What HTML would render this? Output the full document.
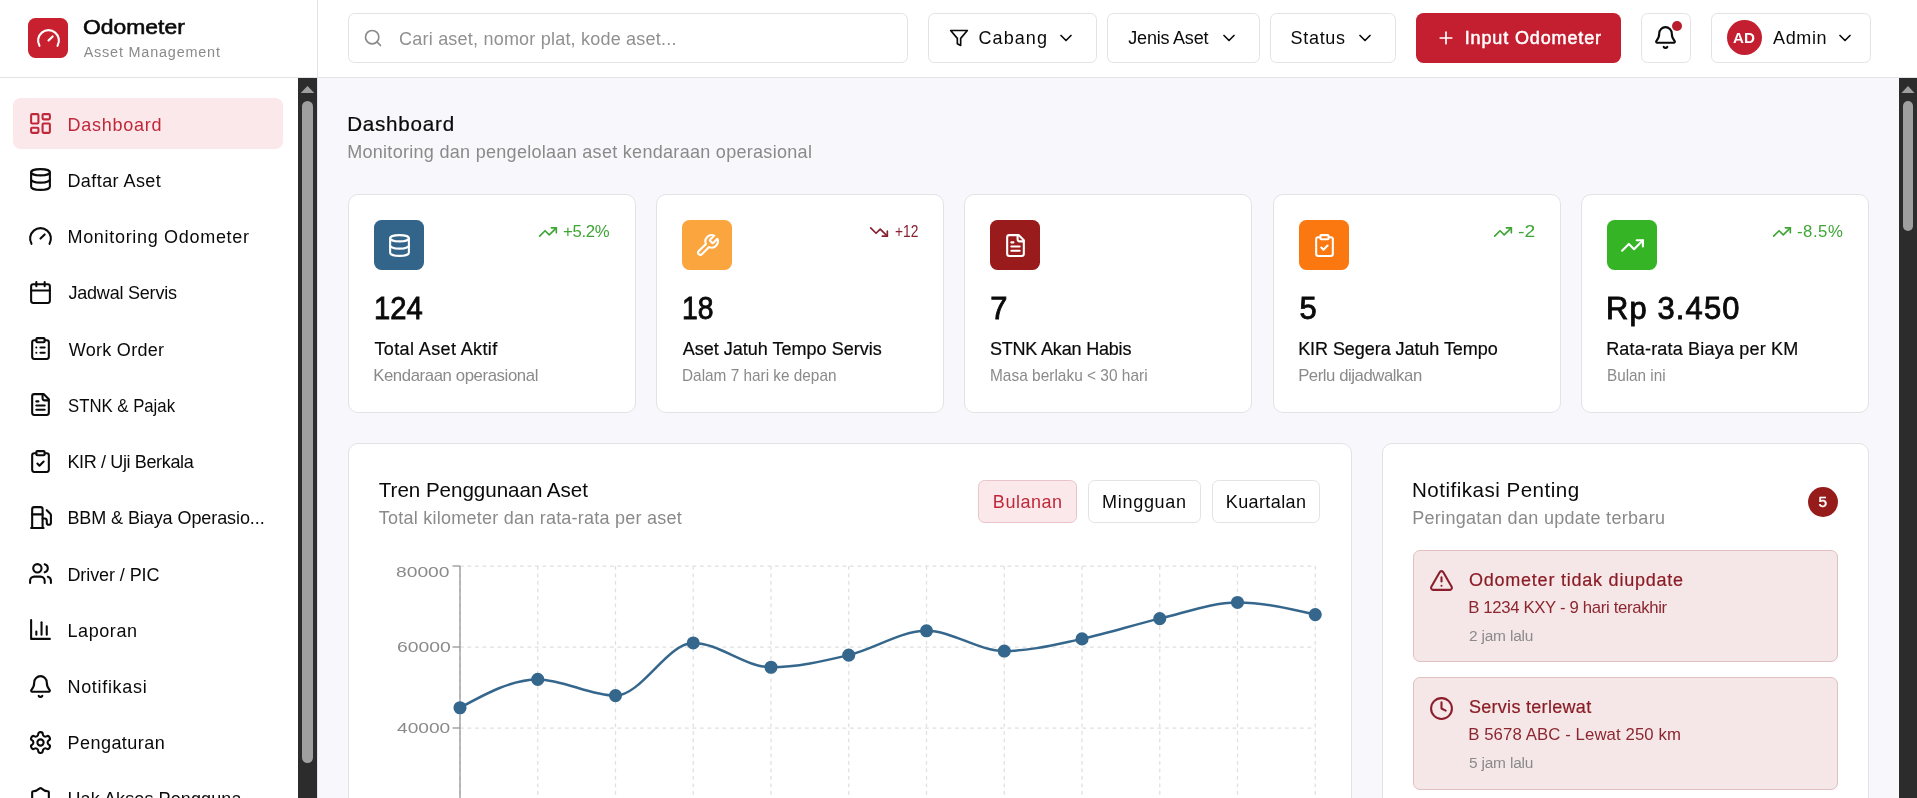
<!DOCTYPE html>
<html lang="id"><head><meta charset="utf-8"><title>Odometer Asset Management</title>
<style>
html,body{margin:0;padding:0}
body{width:1917px;height:798px;overflow:hidden;position:relative;background:#f8f8fc;font-family:"Liberation Sans", sans-serif;}
#r{position:absolute;left:0;top:0;width:1917px;height:798px;overflow:hidden;will-change:transform}
#r>div,#r>svg,#r>span{position:absolute;display:block}
.t{white-space:pre;line-height:1;transform-origin:0 0;font-family:"Liberation Sans", sans-serif;font-weight:400}
</style></head><body><div id="r">
<div style="left:0px;top:0px;width:1917px;height:798px;background:#f8f8fc"></div>
<div style="left:0px;top:0px;width:1917px;height:77px;background:#fff"></div>
<div style="left:0px;top:77px;width:1917px;height:1px;background:#e3e3e7"></div>
<div style="left:0px;top:78px;width:317px;height:720px;background:#fff"></div>
<div style="left:317px;top:0px;width:1px;height:798px;background:#e3e3e7"></div>
<div style="left:298px;top:78px;width:19px;height:720px;background:#2c2c2c"></div>
<div style="left:302px;top:100.5px;width:11px;height:662px;background:#9f9f9f;border-radius:5.5px"></div>
<svg style="left:298px;top:78px" width="19" height="20" viewBox="0 0 19 20"><path d="M2.7 15 L9.5 8 L16.3 15 Z" fill="#9f9f9f"/></svg>
<div style="left:1899px;top:78px;width:18px;height:720px;background:#2c2c2c"></div>
<div style="left:1903px;top:100.5px;width:10px;height:130.7px;background:#9f9f9f;border-radius:5px"></div>
<svg style="left:1899px;top:78px" width="18" height="20" viewBox="0 0 18 20"><path d="M2.5 15 L9 8 L15.5 15 Z" fill="#9f9f9f"/></svg>
<div style="left:28px;top:18px;width:40px;height:40px;background:#c8202f;border-radius:7.5px"></div>
<svg style="left:35.50px;top:25.50px" width="25" height="25" viewBox="0 0 24 24" fill="none" stroke="#fff" stroke-width="2" stroke-linecap="round" stroke-linejoin="round"><path d="m12 14 4-4"/><path d="M3.34 19a10 10 0 1 1 17.32 0"/></svg>
<span class="t" style="left:82.95px;top:17px;font-size:20.6px;color:#0a0a0a;transform:scaleX(1.1119);-webkit-text-stroke:0.58px #0a0a0a;">Odometer</span>
<span class="t" style="left:83.70px;top:45px;font-size:14.42px;color:#8a8a8a;letter-spacing:0.807px;">Asset Management</span>
<div style="left:13px;top:98px;width:270px;height:51px;background:#fbe8ea;border-radius:7.5px"></div>
<svg style="left:27.50px;top:111.00px" width="25" height="25" viewBox="0 0 24 24" fill="none" stroke="#c0283a" stroke-width="2" stroke-linecap="round" stroke-linejoin="round"><rect width="7" height="9" x="3" y="3" rx="1"/><rect width="7" height="5" x="14" y="3" rx="1"/><rect width="7" height="9" x="14" y="12" rx="1"/><rect width="7" height="5" x="3" y="16" rx="1"/></svg>
<span class="t" style="left:67.45px;top:116px;font-size:18.03px;color:#c0283a;letter-spacing:0.756px;">Dashboard</span>
<svg style="left:27.50px;top:167.25px" width="25" height="25" viewBox="0 0 24 24" fill="none" stroke="#0a0a0a" stroke-width="2" stroke-linecap="round" stroke-linejoin="round"><ellipse cx="12" cy="5" rx="9" ry="3"/><path d="M3 5V19A9 3 0 0 0 21 19V5"/><path d="M3 12A9 3 0 0 0 21 12"/></svg>
<span class="t" style="left:67.45px;top:172px;font-size:18.03px;color:#0a0a0a;letter-spacing:0.420px;">Daftar Aset</span>
<svg style="left:27.50px;top:223.50px" width="25" height="25" viewBox="0 0 24 24" fill="none" stroke="#0a0a0a" stroke-width="2" stroke-linecap="round" stroke-linejoin="round"><path d="m12 14 4-4"/><path d="M3.34 19a10 10 0 1 1 17.32 0"/></svg>
<span class="t" style="left:67.45px;top:228px;font-size:18.03px;color:#0a0a0a;letter-spacing:0.686px;">Monitoring Odometer</span>
<svg style="left:27.50px;top:279.75px" width="25" height="25" viewBox="0 0 24 24" fill="none" stroke="#0a0a0a" stroke-width="2" stroke-linecap="round" stroke-linejoin="round"><path d="M8 2v4"/><path d="M16 2v4"/><rect width="18" height="18" x="3" y="4" rx="2"/><path d="M3 10h18"/></svg>
<span class="t" style="left:68.45px;top:284px;font-size:18.03px;color:#0a0a0a;letter-spacing:-0.217px;">Jadwal Servis</span>
<svg style="left:27.50px;top:336.00px" width="25" height="25" viewBox="0 0 24 24" fill="none" stroke="#0a0a0a" stroke-width="2" stroke-linecap="round" stroke-linejoin="round"><rect width="8" height="4" x="8" y="2" rx="1" ry="1"/><path d="M16 4h2a2 2 0 0 1 2 2v14a2 2 0 0 1-2 2H6a2 2 0 0 1-2-2V6a2 2 0 0 1 2-2h2"/><path d="M12 11h4"/><path d="M12 16h4"/><path d="M8 11h.01"/><path d="M8 16h.01"/></svg>
<span class="t" style="left:68.70px;top:341px;font-size:18.03px;color:#0a0a0a;letter-spacing:0.294px;">Work Order</span>
<svg style="left:27.50px;top:392.25px" width="25" height="25" viewBox="0 0 24 24" fill="none" stroke="#0a0a0a" stroke-width="2" stroke-linecap="round" stroke-linejoin="round"><path d="M15 2H6a2 2 0 0 0-2 2v16a2 2 0 0 0 2 2h12a2 2 0 0 0 2-2V7Z"/><path d="M14 2v4a2 2 0 0 0 2 2h4"/><path d="M10 9H8"/><path d="M16 13H8"/><path d="M16 17H8"/></svg>
<span class="t" style="left:67.95px;top:397px;font-size:18.03px;color:#0a0a0a;transform:scaleX(0.9295);">STNK &amp; Pajak</span>
<svg style="left:27.50px;top:448.50px" width="25" height="25" viewBox="0 0 24 24" fill="none" stroke="#0a0a0a" stroke-width="2" stroke-linecap="round" stroke-linejoin="round"><rect width="8" height="4" x="8" y="2" rx="1" ry="1"/><path d="M16 4h2a2 2 0 0 1 2 2v14a2 2 0 0 1-2 2H6a2 2 0 0 1-2-2V6a2 2 0 0 1 2-2h2"/><path d="m9 14 2 2 4-4"/></svg>
<span class="t" style="left:67.45px;top:453px;font-size:18.03px;color:#0a0a0a;letter-spacing:-0.369px;">KIR / Uji Berkala</span>
<svg style="left:27.50px;top:504.75px" width="25" height="25" viewBox="0 0 24 24" fill="none" stroke="#0a0a0a" stroke-width="2" stroke-linecap="round" stroke-linejoin="round"><line x1="3" x2="15" y1="22" y2="22"/><line x1="4" x2="14" y1="9" y2="9"/><path d="M14 22V4a2 2 0 0 0-2-2H6a2 2 0 0 0-2 2v18"/><path d="M14 13h2a2 2 0 0 1 2 2v2a2 2 0 0 0 2 2a2 2 0 0 0 2-2V9.83a2 2 0 0 0-.59-1.42L18 5"/></svg>
<span class="t" style="left:67.45px;top:509px;font-size:18.03px;color:#0a0a0a;letter-spacing:-0.093px;">BBM &amp; Biaya Operasio...</span>
<svg style="left:27.50px;top:561.00px" width="25" height="25" viewBox="0 0 24 24" fill="none" stroke="#0a0a0a" stroke-width="2" stroke-linecap="round" stroke-linejoin="round"><path d="M16 21v-2a4 4 0 0 0-4-4H6a4 4 0 0 0-4 4v2"/><circle cx="9" cy="7" r="4"/><path d="M22 21v-2a4 4 0 0 0-3-3.87"/><path d="M16 3.13a4 4 0 0 1 0 7.75"/></svg>
<span class="t" style="left:67.45px;top:566px;font-size:18.03px;color:#0a0a0a;letter-spacing:-0.091px;">Driver / PIC</span>
<svg style="left:27.50px;top:617.25px" width="25" height="25" viewBox="0 0 24 24" fill="none" stroke="#0a0a0a" stroke-width="2" stroke-linecap="round" stroke-linejoin="round"><path d="M3 3v18h18"/><path d="M18 17V9"/><path d="M13 17V5"/><path d="M8 17v-3"/></svg>
<span class="t" style="left:67.45px;top:622px;font-size:18.03px;color:#0a0a0a;letter-spacing:0.583px;">Laporan</span>
<svg style="left:27.50px;top:673.50px" width="25" height="25" viewBox="0 0 24 24" fill="none" stroke="#0a0a0a" stroke-width="2" stroke-linecap="round" stroke-linejoin="round"><path d="M10.268 21a2 2 0 0 0 3.464 0"/><path d="M3.262 15.326A1 1 0 0 0 4 17h16a1 1 0 0 0 .74-1.673C19.410 13.956 18 12.499 18 8A6 6 0 0 0 6 8c0 4.499-1.411 5.956-2.738 7.326"/></svg>
<span class="t" style="left:67.45px;top:678px;font-size:18.03px;color:#0a0a0a;letter-spacing:0.689px;">Notifikasi</span>
<svg style="left:27.50px;top:729.75px" width="25" height="25" viewBox="0 0 24 24" fill="none" stroke="#0a0a0a" stroke-width="2" stroke-linecap="round" stroke-linejoin="round"><path d="M12.22 2h-.44a2 2 0 0 0-2 2v.18a2 2 0 0 1-1 1.73l-.43.25a2 2 0 0 1-2 0l-.15-.08a2 2 0 0 0-2.73.73l-.22.38a2 2 0 0 0 .73 2.73l.15.1a2 2 0 0 1 1 1.72v.51a2 2 0 0 1-1 1.74l-.15.09a2 2 0 0 0-.73 2.73l.22.38a2 2 0 0 0 2.73.73l.15-.08a2 2 0 0 1 2 0l.43.25a2 2 0 0 1 1 1.73V20a2 2 0 0 0 2 2h.44a2 2 0 0 0 2-2v-.18a2 2 0 0 1 1-1.73l.43-.25a2 2 0 0 1 2 0l.15.08a2 2 0 0 0 2.73-.73l.22-.39a2 2 0 0 0-.73-2.73l-.15-.08a2 2 0 0 1-1-1.74v-.5a2 2 0 0 1 1-1.74l.15-.09a2 2 0 0 0 .73-2.73l-.22-.38a2 2 0 0 0-2.73-.73l-.15.08a2 2 0 0 1-2 0l-.43-.25a2 2 0 0 1-1-1.73V4a2 2 0 0 0-2-2z"/><circle cx="12" cy="12" r="3"/></svg>
<span class="t" style="left:67.45px;top:734px;font-size:18.03px;color:#0a0a0a;letter-spacing:0.467px;">Pengaturan</span>
<svg style="left:27.50px;top:786.00px" width="25" height="25" viewBox="0 0 24 24" fill="none" stroke="#0a0a0a" stroke-width="2" stroke-linecap="round" stroke-linejoin="round"><path d="M20 13c0 5-3.5 7.5-7.66 8.950a1 1 0 0 1-.67-.01C7.5 20.500 4 18 4 13V6a1 1 0 0 1 1-1c2 0 4.500-1.200 6.240-2.720a1.170 1.170 0 0 1 1.520 0C14.510 3.810 17 5 19 5a1 1 0 0 1 1 1z"/></svg>
<span class="t" style="left:67.45px;top:790px;font-size:18.03px;color:#0a0a0a;letter-spacing:0.106px;">Hak Akses Pengguna</span>
<div style="left:348px;top:13px;width:560px;height:50px;box-sizing:border-box;background:#fff;border:1px solid #e3e3e7;border-radius:6.5px"></div>
<svg style="left:363.00px;top:28.00px" width="20" height="20" viewBox="0 0 24 24" fill="none" stroke="#8a8a8a" stroke-width="2" stroke-linecap="round" stroke-linejoin="round"><circle cx="11" cy="11" r="8"/><path d="m21 21-4.300-4.300"/></svg>
<span class="t" style="left:399.10px;top:30px;font-size:18.03px;color:#909090;letter-spacing:0.204px;">Cari aset, nomor plat, kode aset...</span>
<div style="left:928px;top:13px;width:168.5px;height:50px;box-sizing:border-box;background:#fff;border:1px solid #e3e3e7;border-radius:6.5px"></div>
<svg style="left:949.20px;top:28.00px" width="20" height="20" viewBox="0 0 24 24" fill="none" stroke="#0a0a0a" stroke-width="2" stroke-linecap="round" stroke-linejoin="round"><polygon points="22 3 2 3 10 12.460 10 19 14 21 14 12.460 22 3"/></svg>
<span class="t" style="left:978.50px;top:29px;font-size:18.03px;color:#0a0a0a;letter-spacing:1.060px;">Cabang</span>
<svg style="left:1055.80px;top:28.20px" width="20" height="20" viewBox="0 0 24 24" fill="none" stroke="#0a0a0a" stroke-width="2" stroke-linecap="round" stroke-linejoin="round"><path d="m6 9 6 6 6-6"/></svg>
<div style="left:1107px;top:13px;width:152.7px;height:50px;box-sizing:border-box;background:#fff;border:1px solid #e3e3e7;border-radius:6.5px"></div>
<span class="t" style="left:1128.30px;top:29px;font-size:18.03px;color:#0a0a0a;letter-spacing:-0.217px;">Jenis Aset</span>
<svg style="left:1219.20px;top:28.20px" width="20" height="20" viewBox="0 0 24 24" fill="none" stroke="#0a0a0a" stroke-width="2" stroke-linecap="round" stroke-linejoin="round"><path d="m6 9 6 6 6-6"/></svg>
<div style="left:1270.3px;top:13px;width:125.3px;height:50px;box-sizing:border-box;background:#fff;border:1px solid #e3e3e7;border-radius:6.5px"></div>
<span class="t" style="left:1290.60px;top:29px;font-size:18.03px;color:#0a0a0a;letter-spacing:0.670px;">Status</span>
<svg style="left:1355.10px;top:28.20px" width="20" height="20" viewBox="0 0 24 24" fill="none" stroke="#0a0a0a" stroke-width="2" stroke-linecap="round" stroke-linejoin="round"><path d="m6 9 6 6 6-6"/></svg>
<div style="left:1416px;top:13px;width:205px;height:50px;background:#c41f30;border-radius:7.5px"></div>
<svg style="left:1436.10px;top:28.00px" width="20" height="20" viewBox="0 0 24 24" fill="none" stroke="#fff" stroke-width="2" stroke-linecap="round" stroke-linejoin="round"><path d="M5 12h14"/><path d="M12 5v14"/></svg>
<span class="t" style="left:1464.65px;top:29px;font-size:18.03px;color:#fff;letter-spacing:0.862px;-webkit-text-stroke:0.5px #fff;">Input Odometer</span>
<div style="left:1641.3px;top:13px;width:49.5px;height:50px;box-sizing:border-box;background:#fff;border:1px solid #e3e3e7;border-radius:6.5px"></div>
<svg style="left:1653.30px;top:24.70px" width="25" height="25" viewBox="0 0 24 24" fill="none" stroke="#0a0a0a" stroke-width="2" stroke-linecap="round" stroke-linejoin="round"><path d="M10.268 21a2 2 0 0 0 3.464 0"/><path d="M3.262 15.326A1 1 0 0 0 4 17h16a1 1 0 0 0 .74-1.673C19.410 13.956 18 12.499 18 8A6 6 0 0 0 6 8c0 4.499-1.411 5.956-2.738 7.326"/></svg>
<div style="left:1672px;top:21px;width:10px;height:10px;background:#b81d2b;border-radius:50%"></div>
<div style="left:1711.4px;top:13px;width:159.2px;height:50px;box-sizing:border-box;background:#fff;border:1px solid #e3e3e7;border-radius:6.5px"></div>
<div style="left:1726.9px;top:20px;width:35px;height:35px;background:#c41f30;border-radius:50%"></div>
<span class="t" style="left:1733.10px;top:30px;font-size:15.45px;color:#fff;transform:scaleX(0.9789);font-weight:700;">AD</span>
<span class="t" style="left:1773.00px;top:29px;font-size:18.03px;color:#0a0a0a;letter-spacing:0.612px;">Admin</span>
<svg style="left:1835.20px;top:28.20px" width="20" height="20" viewBox="0 0 24 24" fill="none" stroke="#0a0a0a" stroke-width="2" stroke-linecap="round" stroke-linejoin="round"><path d="m6 9 6 6 6-6"/></svg>
<span class="t" style="left:347.15px;top:114px;font-size:20.6px;color:#0a0a0a;letter-spacing:0.775px;-webkit-text-stroke:0.23px #0a0a0a;">Dashboard</span>
<span class="t" style="left:347.15px;top:143px;font-size:18.03px;color:#8a8a8a;letter-spacing:0.289px;">Monitoring dan pengelolaan aset kendaraan operasional</span>
<div style="left:348px;top:194px;width:288px;height:219px;box-sizing:border-box;background:#fff;border:1px solid #e3e3e7;border-radius:10px"></div>
<div style="left:374px;top:220px;width:50px;height:50px;background:#33658a;border-radius:7.5px"></div>
<svg style="left:386.50px;top:232.80px" width="25" height="25" viewBox="0 0 24 24" fill="none" stroke="#fff" stroke-width="2" stroke-linecap="round" stroke-linejoin="round"><ellipse cx="12" cy="5" rx="9" ry="3"/><path d="M3 5V19A9 3 0 0 0 21 19V5"/><path d="M3 12A9 3 0 0 0 21 12"/></svg>
<span class="t" style="left:373.55px;top:294px;font-size:30.9px;color:#0a0a0a;transform:scaleX(0.9442);-webkit-text-stroke:0.87px #0a0a0a;">124</span>
<span class="t" style="left:374.40px;top:340px;font-size:18.03px;color:#0a0a0a;letter-spacing:0.380px;-webkit-text-stroke:0.2px #0a0a0a;">Total Aset Aktif</span>
<span class="t" style="left:373.15px;top:368px;font-size:16.74px;color:#8a8a8a;letter-spacing:-0.392px;">Kendaraan operasional</span>
<svg style="left:538.10px;top:222.00px" width="20" height="20" viewBox="0 0 24 24" fill="none" stroke="#3fa535" stroke-width="2" stroke-linecap="round" stroke-linejoin="round"><polyline points="22 7 13.500 15.500 8.500 10.500 2 17"/><polyline points="16 7 22 7 22 13"/></svg>
<span class="t" style="left:562.95px;top:224px;font-size:16.74px;color:#3fa535;letter-spacing:-0.287px;">+5.2%</span>
<div style="left:656px;top:194px;width:288px;height:219px;box-sizing:border-box;background:#fff;border:1px solid #e3e3e7;border-radius:10px"></div>
<div style="left:682px;top:220px;width:50px;height:50px;background:#fba53f;border-radius:7.5px"></div>
<svg style="left:694.50px;top:232.80px" width="25" height="25" viewBox="0 0 24 24" fill="none" stroke="#fff" stroke-width="2" stroke-linecap="round" stroke-linejoin="round"><path d="M14.700 6.300a1 1 0 0 0 0 1.400l1.600 1.600a1 1 0 0 0 1.400 0l3.770-3.770a6 6 0 0 1-7.940 7.940l-6.910 6.910a2.120 2.120 0 0 1-3-3l6.910-6.910a6 6 0 0 1 7.940-7.940l-3.760 3.760z"/></svg>
<span class="t" style="left:681.55px;top:294px;font-size:30.9px;color:#0a0a0a;transform:scaleX(0.9166);-webkit-text-stroke:0.87px #0a0a0a;">18</span>
<span class="t" style="left:682.65px;top:340px;font-size:18.03px;color:#0a0a0a;letter-spacing:0.007px;-webkit-text-stroke:0.2px #0a0a0a;">Aset Jatuh Tempo Servis</span>
<span class="t" style="left:681.65px;top:368px;font-size:16.74px;color:#8a8a8a;transform:scaleX(0.9175);">Dalam 7 hari ke depan</span>
<svg style="left:869.20px;top:222.00px" width="20" height="20" viewBox="0 0 24 24" fill="none" stroke="#862033" stroke-width="2" stroke-linecap="round" stroke-linejoin="round"><polyline points="22 17 13.500 8.500 8.500 13.500 2 7"/><polyline points="16 17 22 17 22 11"/></svg>
<span class="t" style="left:894.55px;top:224px;font-size:16.74px;color:#862033;transform:scaleX(0.8224);">+12</span>
<div style="left:964px;top:194px;width:288px;height:219px;box-sizing:border-box;background:#fff;border:1px solid #e3e3e7;border-radius:10px"></div>
<div style="left:990px;top:220px;width:50px;height:50px;background:#991b1b;border-radius:7.5px"></div>
<svg style="left:1002.50px;top:232.80px" width="25" height="25" viewBox="0 0 24 24" fill="none" stroke="#fff" stroke-width="2" stroke-linecap="round" stroke-linejoin="round"><path d="M15 2H6a2 2 0 0 0-2 2v16a2 2 0 0 0 2 2h12a2 2 0 0 0 2-2V7Z"/><path d="M14 2v4a2 2 0 0 0 2 2h4"/><path d="M10 9H8"/><path d="M16 13H8"/><path d="M16 17H8"/></svg>
<span class="t" style="left:990.25px;top:294px;font-size:30.9px;color:#0a0a0a;-webkit-text-stroke:0.87px #0a0a0a;">7</span>
<span class="t" style="left:989.90px;top:340px;font-size:18.03px;color:#0a0a0a;letter-spacing:-0.189px;-webkit-text-stroke:0.2px #0a0a0a;">STNK Akan Habis</span>
<span class="t" style="left:989.65px;top:368px;font-size:16.74px;color:#8a8a8a;transform:scaleX(0.9233);">Masa berlaku &lt; 30 hari</span>
<div style="left:1273px;top:194px;width:288px;height:219px;box-sizing:border-box;background:#fff;border:1px solid #e3e3e7;border-radius:10px"></div>
<div style="left:1299px;top:220px;width:50px;height:50px;background:#fb7710;border-radius:7.5px"></div>
<svg style="left:1311.50px;top:232.80px" width="25" height="25" viewBox="0 0 24 24" fill="none" stroke="#fff" stroke-width="2" stroke-linecap="round" stroke-linejoin="round"><rect width="8" height="4" x="8" y="2" rx="1" ry="1"/><path d="M16 4h2a2 2 0 0 1 2 2v14a2 2 0 0 1-2 2H6a2 2 0 0 1-2-2V6a2 2 0 0 1 2-2h2"/><path d="m9 14 2 2 4-4"/></svg>
<span class="t" style="left:1299.47px;top:294px;font-size:30.9px;color:#0a0a0a;-webkit-text-stroke:0.87px #0a0a0a;">5</span>
<span class="t" style="left:1298.15px;top:340px;font-size:18.03px;color:#0a0a0a;letter-spacing:-0.067px;-webkit-text-stroke:0.2px #0a0a0a;">KIR Segera Jatuh Tempo</span>
<span class="t" style="left:1298.15px;top:368px;font-size:16.74px;color:#8a8a8a;letter-spacing:-0.444px;">Perlu dijadwalkan</span>
<svg style="left:1493.40px;top:222.00px" width="20" height="20" viewBox="0 0 24 24" fill="none" stroke="#3fa535" stroke-width="2" stroke-linecap="round" stroke-linejoin="round"><polyline points="22 7 13.500 15.500 8.500 10.500 2 17"/><polyline points="16 7 22 7 22 13"/></svg>
<span class="t" style="left:1517.55px;top:224px;font-size:16.74px;color:#3fa535;transform:scaleX(1.1512);">-2</span>
<div style="left:1581px;top:194px;width:288px;height:219px;box-sizing:border-box;background:#fff;border:1px solid #e3e3e7;border-radius:10px"></div>
<div style="left:1607px;top:220px;width:50px;height:50px;background:#35b526;border-radius:7.5px"></div>
<svg style="left:1619.50px;top:232.80px" width="25" height="25" viewBox="0 0 24 24" fill="none" stroke="#fff" stroke-width="2" stroke-linecap="round" stroke-linejoin="round"><polyline points="22 7 13.500 15.500 8.500 10.500 2 17"/><polyline points="16 7 22 7 22 13"/></svg>
<span class="t" style="left:1606.05px;top:294px;font-size:30.9px;color:#0a0a0a;letter-spacing:1.136px;-webkit-text-stroke:0.87px #0a0a0a;">Rp 3.450</span>
<span class="t" style="left:1606.15px;top:340px;font-size:18.03px;color:#0a0a0a;letter-spacing:0.188px;-webkit-text-stroke:0.2px #0a0a0a;">Rata-rata Biaya per KM</span>
<span class="t" style="left:1606.65px;top:368px;font-size:16.74px;color:#8a8a8a;transform:scaleX(0.9126);">Bulan ini</span>
<svg style="left:1772.40px;top:222.00px" width="20" height="20" viewBox="0 0 24 24" fill="none" stroke="#3fa535" stroke-width="2" stroke-linecap="round" stroke-linejoin="round"><polyline points="22 7 13.500 15.500 8.500 10.500 2 17"/><polyline points="16 7 22 7 22 13"/></svg>
<span class="t" style="left:1797.05px;top:224px;font-size:16.74px;color:#3fa535;letter-spacing:0.500px;">-8.5%</span>
<div style="left:348px;top:443px;width:1004px;height:400px;box-sizing:border-box;background:#fff;border:1px solid #e3e3e7;border-radius:10px"></div>
<span class="t" style="left:378.80px;top:480px;font-size:20.6px;color:#0a0a0a;letter-spacing:-0.039px;">Tren Penggunaan Aset</span>
<span class="t" style="left:378.80px;top:509px;font-size:18.03px;color:#8a8a8a;letter-spacing:0.232px;">Total kilometer dan rata-rata per aset</span>
<div style="left:978.3px;top:480.3px;width:98.7px;height:42.5px;box-sizing:border-box;background:#fbe8ea;border:1px solid #e9c5ca;border-radius:6.5px"></div>
<span class="t" style="left:992.85px;top:493px;font-size:18.03px;color:#c0283a;letter-spacing:0.517px;">Bulanan</span>
<div style="left:1087.6px;top:480.3px;width:113px;height:42.5px;box-sizing:border-box;background:#fff;border:1px solid #e3e3e7;border-radius:6.5px"></div>
<span class="t" style="left:1102.00px;top:493px;font-size:18.03px;color:#0a0a0a;letter-spacing:0.707px;">Mingguan</span>
<div style="left:1211.5px;top:480.3px;width:108.8px;height:42.5px;box-sizing:border-box;background:#fff;border:1px solid #e3e3e7;border-radius:6.5px"></div>
<span class="t" style="left:1225.80px;top:493px;font-size:18.03px;color:#0a0a0a;letter-spacing:0.375px;">Kuartalan</span>
<svg style="left:0;top:0" width="1917" height="798" viewBox="0 0 1917 798"><line x1="460.0" y1="566.0" x2="1315.25" y2="566.0" stroke="#e0e0e0" stroke-width="1.25" stroke-dasharray="3.75 3.75"/><line x1="460.0" y1="647.0" x2="1315.25" y2="647.0" stroke="#e0e0e0" stroke-width="1.25" stroke-dasharray="3.75 3.75"/><line x1="460.0" y1="728.0" x2="1315.25" y2="728.0" stroke="#e0e0e0" stroke-width="1.25" stroke-dasharray="3.75 3.75"/><line x1="460.00" y1="566.0" x2="460.00" y2="798" stroke="#e0e0e0" stroke-width="1.25" stroke-dasharray="3.75 3.75"/><line x1="537.75" y1="566.0" x2="537.75" y2="798" stroke="#e0e0e0" stroke-width="1.25" stroke-dasharray="3.75 3.75"/><line x1="615.50" y1="566.0" x2="615.50" y2="798" stroke="#e0e0e0" stroke-width="1.25" stroke-dasharray="3.75 3.75"/><line x1="693.25" y1="566.0" x2="693.25" y2="798" stroke="#e0e0e0" stroke-width="1.25" stroke-dasharray="3.75 3.75"/><line x1="771.00" y1="566.0" x2="771.00" y2="798" stroke="#e0e0e0" stroke-width="1.25" stroke-dasharray="3.75 3.75"/><line x1="848.75" y1="566.0" x2="848.75" y2="798" stroke="#e0e0e0" stroke-width="1.25" stroke-dasharray="3.75 3.75"/><line x1="926.50" y1="566.0" x2="926.50" y2="798" stroke="#e0e0e0" stroke-width="1.25" stroke-dasharray="3.75 3.75"/><line x1="1004.25" y1="566.0" x2="1004.25" y2="798" stroke="#e0e0e0" stroke-width="1.25" stroke-dasharray="3.75 3.75"/><line x1="1082.00" y1="566.0" x2="1082.00" y2="798" stroke="#e0e0e0" stroke-width="1.25" stroke-dasharray="3.75 3.75"/><line x1="1159.75" y1="566.0" x2="1159.75" y2="798" stroke="#e0e0e0" stroke-width="1.25" stroke-dasharray="3.75 3.75"/><line x1="1237.50" y1="566.0" x2="1237.50" y2="798" stroke="#e0e0e0" stroke-width="1.25" stroke-dasharray="3.75 3.75"/><line x1="1315.25" y1="566.0" x2="1315.25" y2="798" stroke="#e0e0e0" stroke-width="1.25" stroke-dasharray="3.75 3.75"/><line x1="460.0" y1="566.0" x2="460.0" y2="798" stroke="#929292" stroke-width="1.25"/><line x1="452.5" y1="566.0" x2="460.0" y2="566.0" stroke="#929292" stroke-width="1.25"/><line x1="452.5" y1="647.0" x2="460.0" y2="647.0" stroke="#929292" stroke-width="1.25"/><line x1="452.5" y1="728.0" x2="460.0" y2="728.0" stroke="#929292" stroke-width="1.25"/><path d="M460.00,707.75C485.92,693.58,511.83,679.40,537.75,679.40C563.67,679.40,589.58,695.60,615.50,695.60C641.42,695.60,667.33,642.95,693.25,642.95C719.17,642.95,745.08,667.25,771.00,667.25C796.92,667.25,822.83,661.18,848.75,655.10C874.67,649.02,900.58,630.80,926.50,630.80C952.42,630.80,978.33,651.05,1004.25,651.05C1030.17,651.05,1056.08,644.30,1082.00,638.90C1107.92,633.50,1133.83,624.72,1159.75,618.65C1185.67,612.58,1211.58,602.45,1237.50,602.45C1263.42,602.45,1289.33,608.53,1315.25,614.60" fill="none" stroke="#35678d" stroke-width="2.5"/><circle cx="460.00" cy="707.75" r="5.3" fill="#35678d" stroke="#35678d" stroke-width="2.5"/><circle cx="537.75" cy="679.40" r="5.3" fill="#35678d" stroke="#35678d" stroke-width="2.5"/><circle cx="615.50" cy="695.60" r="5.3" fill="#35678d" stroke="#35678d" stroke-width="2.5"/><circle cx="693.25" cy="642.95" r="5.3" fill="#35678d" stroke="#35678d" stroke-width="2.5"/><circle cx="771.00" cy="667.25" r="5.3" fill="#35678d" stroke="#35678d" stroke-width="2.5"/><circle cx="848.75" cy="655.10" r="5.3" fill="#35678d" stroke="#35678d" stroke-width="2.5"/><circle cx="926.50" cy="630.80" r="5.3" fill="#35678d" stroke="#35678d" stroke-width="2.5"/><circle cx="1004.25" cy="651.05" r="5.3" fill="#35678d" stroke="#35678d" stroke-width="2.5"/><circle cx="1082.00" cy="638.90" r="5.3" fill="#35678d" stroke="#35678d" stroke-width="2.5"/><circle cx="1159.75" cy="618.65" r="5.3" fill="#35678d" stroke="#35678d" stroke-width="2.5"/><circle cx="1237.50" cy="602.45" r="5.3" fill="#35678d" stroke="#35678d" stroke-width="2.5"/><circle cx="1315.25" cy="614.60" r="5.3" fill="#35678d" stroke="#35678d" stroke-width="2.5"/></svg>
<span class="t" style="left:396.35px;top:564px;font-size:15.45px;color:#8a8a8a;transform:scaleX(1.2455);">80000</span>
<span class="t" style="left:396.60px;top:639px;font-size:15.45px;color:#8a8a8a;transform:scaleX(1.2530);">60000</span>
<span class="t" style="left:397.10px;top:720px;font-size:15.45px;color:#8a8a8a;transform:scaleX(1.2381);">40000</span>
<div style="left:1382px;top:443px;width:487px;height:400px;box-sizing:border-box;background:#fff;border:1px solid #e3e3e7;border-radius:10px"></div>
<span class="t" style="left:1411.90px;top:480px;font-size:20.6px;color:#0a0a0a;letter-spacing:0.482px;">Notifikasi Penting</span>
<span class="t" style="left:1412.15px;top:509px;font-size:18.03px;color:#8a8a8a;letter-spacing:0.302px;">Peringatan dan update terbaru</span>
<div style="left:1808px;top:486.8px;width:30px;height:30px;background:#961b1b;border-radius:50%"></div>
<span class="t" style="left:1818.43px;top:494px;font-size:15.45px;color:#fff;-webkit-text-stroke:0.43px #fff;">5</span>
<div style="left:1413px;top:550px;width:425px;height:112px;box-sizing:border-box;background:#f5e7e7;border:1px solid #e0c0c0;border-radius:7px"></div>
<svg style="left:1429.10px;top:567.70px" width="25" height="25" viewBox="0 0 24 24" fill="none" stroke="#8c1d2b" stroke-width="2" stroke-linecap="round" stroke-linejoin="round"><path d="m21.730 18-8-14a2 2 0 0 0-3.480 0l-8 14A2 2 0 0 0 4 21h16a2 2 0 0 0 1.730-3"/><path d="M12 9v4"/><path d="M12 17h.01"/></svg>
<span class="t" style="left:1468.90px;top:571px;font-size:18.03px;color:#8a1c26;letter-spacing:0.770px;-webkit-text-stroke:0.2px #8a1c26;">Odometer tidak diupdate</span>
<span class="t" style="left:1468.15px;top:600px;font-size:16.74px;color:#8c2630;letter-spacing:-0.337px;">B 1234 KXY - 9 hari terakhir</span>
<span class="t" style="left:1468.90px;top:628px;font-size:15.45px;color:#8a8a8a;letter-spacing:-0.172px;">2 jam lalu</span>
<div style="left:1413px;top:677px;width:425px;height:113px;box-sizing:border-box;background:#f5e7e7;border:1px solid #e0c0c0;border-radius:7px"></div>
<svg style="left:1429.10px;top:695.60px" width="25" height="25" viewBox="0 0 24 24" fill="none" stroke="#8c1d2b" stroke-width="2" stroke-linecap="round" stroke-linejoin="round"><circle cx="12" cy="12" r="10"/><polyline points="12 6 12 12 16 14"/></svg>
<span class="t" style="left:1468.90px;top:698px;font-size:18.03px;color:#8a1c26;letter-spacing:0.293px;-webkit-text-stroke:0.2px #8a1c26;">Servis terlewat</span>
<span class="t" style="left:1468.15px;top:727px;font-size:16.74px;color:#8c2630;letter-spacing:0.108px;">B 5678 ABC - Lewat 250 km</span>
<span class="t" style="left:1468.90px;top:755px;font-size:15.45px;color:#8a8a8a;letter-spacing:-0.172px;">5 jam lalu</span>
</div></body></html>
